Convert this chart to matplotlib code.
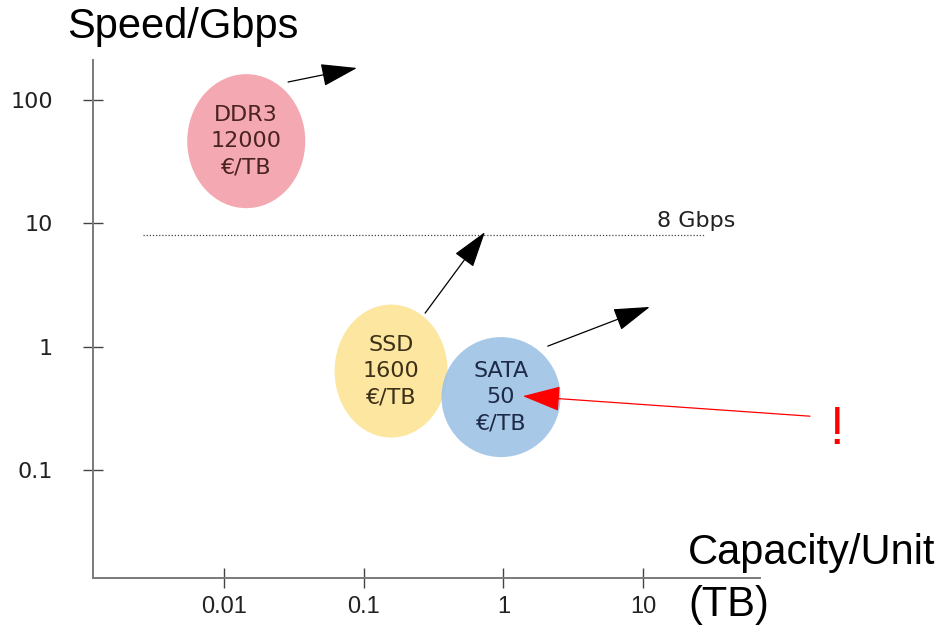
import matplotlib
matplotlib.use('Agg')
import matplotlib.pyplot as plt
from matplotlib.patches import Ellipse
from matplotlib.transforms import ScaledTranslation
from matplotlib.ticker import NullLocator

plt.rcParams['font.family'] = ['DejaVu Sans']

# memory / storage bubbles: capacity (TB), speed (Gbps)
names = ['DDR3\n12000\n€/TB', 'SSD\n1600\n€/TB', 'SATA\n50\n€/TB']
capacity = [0.0144, 0.157, 0.962]
speed = [46.4, 0.634, 0.390]
bubble_w = [1.18, 1.13, 1.19]   # inches
bubble_h = [1.34, 1.33, 1.20]
bubble_colors = ['#F4A8B2', '#FCE6A0', '#A0C4E6']
text_colors = ['#4A2222', '#3C3018', '#1E2B48']

# trend arrows (start -> end)
arrow_start = [(0.0287, 140), (0.275, 1.87), (2.08, 1.01)]
arrow_end = [(0.0895, 182), (0.738, 8.5), (11.2, 2.10)]
red_start = (157, 0.273)
red_end = (1.38, 0.397)

limit_speed = 8
limit_x = [0.00263, 27.7]

xticks = [0.01, 0.1, 1, 10]
xticklabels = ['0.01', '0.1', '1', '10']
yticks = [0.1, 1, 10, 100]
yticklabels = ['0.1', '1', '10', '100']

fig = plt.figure(figsize=(9.48, 6.3), dpi=100)
ax = fig.add_axes([0.0981, 0.0825, 0.7036, 0.8222])
ax.set_xscale('log')
ax.set_yscale('log')
ax.set_xlim(0.00115, 68.9)
ax.set_ylim(0.0133, 211)

for s in ['top', 'right']:
    ax.spines[s].set_visible(False)
for s in ['left', 'bottom']:
    ax.spines[s].set_color('#7a7a7a')
    ax.spines[s].set_linewidth(1.4)

ax.set_xticks(xticks)
ax.set_xticklabels(xticklabels, family=['Liberation Sans Narrow', 'Liberation Sans'], fontsize=17)
ax.set_yticks(yticks)
ax.set_yticklabels(yticklabels, fontsize=16)
ax.xaxis.set_minor_locator(NullLocator())
ax.yaxis.set_minor_locator(NullLocator())
ax.tick_params(axis='x', direction='inout', length=14, width=1, color='#444444', pad=6,
               labelcolor='#222222')
ax.tick_params(axis='y', direction='inout', length=14, width=1, color='#444444', pad=22,
               labelcolor='#222222')

# 8 Gbps limit
ax.plot(limit_x, [limit_speed, limit_speed], linestyle=(0, (1, 1.5)), color='#444444', lw=0.9)
ax.text(12.6, 10.4, '8 Gbps', fontsize=16, color='#222222', va='center', ha='left')

for i in range(3):
    trans = fig.dpi_scale_trans + ScaledTranslation(capacity[i], speed[i], ax.transData)
    alpha = 0.93 if i == 2 else 1.0
    ax.add_patch(Ellipse((0, 0), bubble_w[i], bubble_h[i], transform=trans,
                         facecolor=bubble_colors[i], edgecolor='none', alpha=alpha, zorder=2))
    ax.text(capacity[i], speed[i], names[i], ha='center', va='center', fontsize=16,
            color=text_colors[i], linespacing=1.4, zorder=3)

for st, en in zip(arrow_start, arrow_end):
    ax.annotate('', xy=en, xytext=st, annotation_clip=False,
                arrowprops=dict(arrowstyle='-|>,head_length=1.15,head_width=0.36',
                                mutation_scale=20, color='black', lw=0.9,
                                shrinkA=0, shrinkB=0))

ax.annotate('', xy=red_end, xytext=red_start, annotation_clip=False,
            arrowprops=dict(arrowstyle='-|>,head_length=1.2,head_width=0.4',
                            mutation_scale=20, color='red', lw=0.9,
                            shrinkA=0, shrinkB=0), zorder=4)
ax.text(244, 0.211, '!', fontsize=38, color='red', ha='center', va='center',
        family=['Liberation Sans'], clip_on=False)

fig.text(67 / 948, 1 - 27 / 630, 'Speed/Gbps', fontsize=30, family=['Liberation Sans'],
         ha='left', va='center')
fig.text(688 / 948, 1 - 533 / 630, 'Capacity/Unit\n(TB)', fontsize=30,
         family=['Liberation Sans'], ha='left', va='top', linespacing=1.4)

fig.savefig('out.png', dpi=100)
